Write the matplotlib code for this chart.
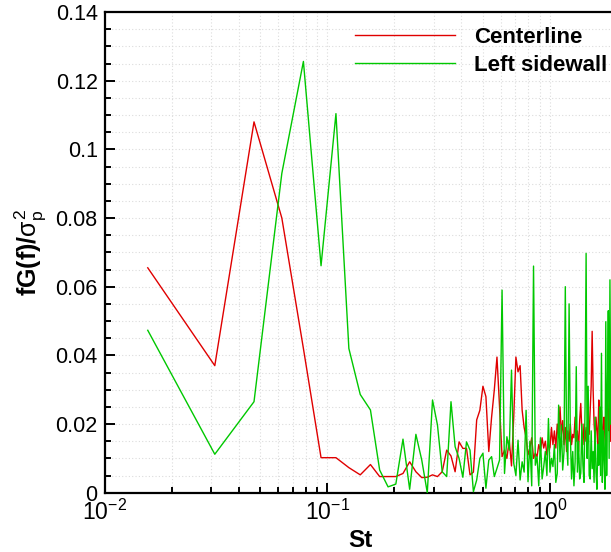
import numpy as np
import matplotlib
matplotlib.use("Agg")
import matplotlib.pyplot as plt
from matplotlib.ticker import LogLocator, MultipleLocator, FixedLocator

plt.rcParams['font.family'] = ['Liberation Sans', 'DejaVu Sans']
plt.rcParams['mathtext.fontset'] = 'custom'
plt.rcParams['mathtext.rm'] = 'Liberation Sans'
plt.rcParams['mathtext.it'] = 'Liberation Sans'
plt.rcParams['mathtext.bf'] = 'Liberation Sans:bold'

# Strouhal-number grid: uniform spacing df = 1/64, 120 samples
df = 0.015625
n_points = 120
St = np.arange(1, n_points + 1) * df

centerline = [
    0.0655, 0.037, 0.108, 0.080, 0.042, 0.0102, 0.0102, 0.0073, 0.0052, 0.0082,
    0.0047, 0.0047, 0.0047, 0.0056, 0.0090, 0.0061, 0.0044, 0.0045, 0.0052, 0.0047,
    0.0061, 0.0124, 0.0107, 0.0061, 0.0148, 0.0129, 0.0129, 0.0052, 0.0060, 0.0212,
    0.024, 0.031, 0.028, 0.012, 0.022, 0.030, 0.0395, 0.025, 0.0105, 0.0124,
    0.010, 0.0153, 0.0078, 0.022, 0.0395, 0.0352, 0.037, 0.024, 0.019, 0.016,
    0.011, 0.013, 0.016, 0.010, 0.0115, 0.0105, 0.014, 0.012, 0.016, 0.013,
    0.015, 0.011, 0.014, 0.013, 0.019, 0.014, 0.018, 0.013, 0.020, 0.016,
    0.025, 0.017, 0.021, 0.014, 0.019, 0.012, 0.018, 0.015, 0.020, 0.014,
    0.017, 0.016, 0.022, 0.015, 0.018, 0.012, 0.021, 0.026, 0.018, 0.014,
    0.020, 0.015, 0.019, 0.013, 0.021, 0.017, 0.024, 0.031, 0.047, 0.030,
    0.020, 0.016, 0.022, 0.018, 0.014, 0.027, 0.021, 0.017, 0.024, 0.013,
    0.019, 0.022, 0.016, 0.012, 0.020, 0.029, 0.024, 0.018, 0.022, 0.015,
]

left_sidewall = [
    0.0473, 0.0112, 0.0265, 0.093, 0.1256, 0.0661, 0.1104, 0.042, 0.0286, 0.0241,
    0.0066, 0.0017, 0.0025, 0.0156, 0.0010, 0.0170, 0.0095, 0.0000, 0.0270, 0.0197,
    0.0061, 0.0047, 0.0265, 0.0134, 0.0100, 0.0045, 0.0148, 0.0124, 0.0003, 0.0037,
    0.0100, 0.0115, 0.0013, 0.0095, 0.0105, 0.0047, 0.0071, 0.0095, 0.0590, 0.0056,
    0.0163, 0.0124, 0.0357, 0.0086, 0.0050, 0.0153, 0.0037, 0.0090, 0.0060, 0.0240,
    0.0032, 0.0150, 0.0020, 0.0660, 0.0080, 0.0105, 0.0020, 0.0160, 0.0040, 0.0076,
    0.0120, 0.0050, 0.0216, 0.0060, 0.0100, 0.0076, 0.0140, 0.0030, 0.0056, 0.0255,
    0.0090, 0.0197, 0.0066, 0.0120, 0.0600, 0.0150, 0.0080, 0.0550, 0.0170, 0.0040,
    0.0120, 0.0020, 0.0090, 0.0367, 0.0060, 0.0150, 0.0040, 0.0057, 0.0200, 0.0080,
    0.0030, 0.0250, 0.0697, 0.0100, 0.0310, 0.0050, 0.0040, 0.0180, 0.0070, 0.0120,
    0.0030, 0.0220, 0.0060, 0.0010, 0.0140, 0.0080, 0.0250, 0.0050, 0.0406, 0.0030,
    0.0180, 0.0100, 0.0010, 0.0498, 0.0050, 0.0300, 0.0530, 0.0100, 0.0620, 0.0200,
]

series_labels = ["Centerline", "Left sidewall"]
y_ticks = [0, 0.02, 0.04, 0.06, 0.08, 0.1, 0.12, 0.14]
y_tick_labels = ["0", "0.02", "0.04", "0.06", "0.08", "0.1", "0.12", "0.14"]

W, H = 611, 552
fig = plt.figure(figsize=(W / 100, H / 100), dpi=100)
x0, x1 = 104.6, 617.0
ytop, ybot = 12.0, 492.7
ax = fig.add_axes([x0 / W, 1 - ybot / H, (x1 - x0) / W, (ybot - ytop) / H])

ax.plot(St, centerline, color='#e00000', lw=1.0, label=series_labels[0], zorder=3)
ax.plot(St, left_sidewall, color='#00c800', lw=1.0, label=series_labels[1], zorder=4)

ax.set_xscale('log')
ax.set_xlim(0.01, 2.0)
ax.set_ylim(0, 0.14)

ax.yaxis.set_major_locator(FixedLocator(y_ticks))
ax.set_yticklabels(y_tick_labels)
ax.yaxis.set_minor_locator(MultipleLocator(0.005))
ax.xaxis.set_major_locator(LogLocator(base=10, numticks=10))
ax.xaxis.set_minor_locator(LogLocator(base=10, subs=np.arange(2, 10), numticks=20))

ax.grid(True, which='both', color='#dcdcdc', linestyle=(0, (1, 2)), lw=0.8, zorder=0)

ax.tick_params(which='both', direction='in', top=False, right=False, width=1.4, colors='black')
ax.tick_params(which='major', length=7.5, labelsize=15.5, pad=5)
ax.tick_params(which='minor', length=4)
ax.tick_params(axis='x', which='major', labelsize=16.5, pad=5)

for s in ['left', 'bottom', 'top']:
    ax.spines[s].set_linewidth(1.6)
ax.spines['right'].set_visible(False)

ax.set_xlabel('St', fontsize=17.5, fontweight='bold', labelpad=3)
ax.set_ylabel(r'fG(f)/$\sigma_p^2$', fontsize=18, fontweight='bold', labelpad=5)

leg = ax.legend(loc='upper left', bbox_to_anchor=(355 / W, 1 - 27 / H), bbox_transform=fig.transFigure,
                frameon=False, borderpad=0, borderaxespad=0, handlelength=4.5, handletextpad=0.85,
                labelspacing=0.32, prop={'size': 16, 'weight': 'bold'})

fig.savefig('out.png', dpi=100)
